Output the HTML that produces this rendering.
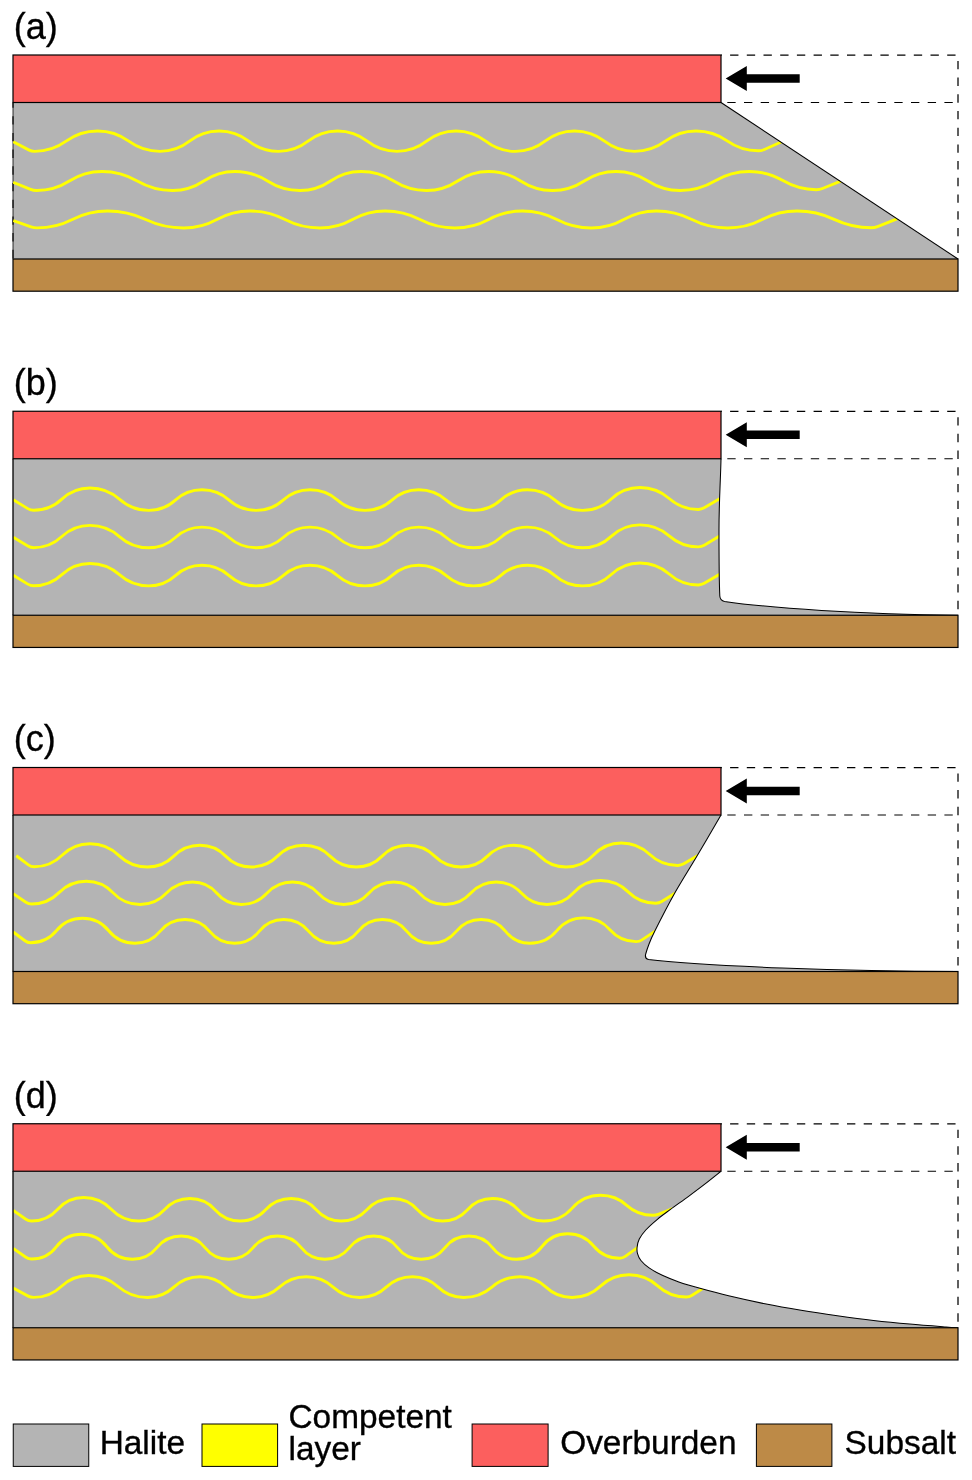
<!DOCTYPE html>
<html lang="en"><head><meta charset="utf-8"><title>Salt flow models</title>
<style>html,body{margin:0;padding:0;background:#fff}svg{display:block}text{will-change:transform;stroke:#000;stroke-width:.35px;font-family:"Liberation Sans",Arial,Helvetica,sans-serif;fill:#000}</style></head><body>
<svg width="972" height="1480" viewBox="0 0 972 1480">
<rect width="972" height="1480" fill="#fff"/>
<g id="panel-a">
<path d="M721,55 H958 V259" fill="none" stroke="#000" stroke-width="1.25" stroke-dasharray="8.35 8.35" stroke-dashoffset="7.6"/>
<path d="M721,102.5 H958" fill="none" stroke="#000" stroke-width="1" stroke-dasharray="8.35 8.35" stroke-dashoffset="10.4"/>
<clipPath id="clip-a"><path d="M13,102.5 H721 L958,259 H13 Z"/></clipPath>
<path d="M13,102.5 H721 L958,259 H13 Z" fill="#b4b4b4"/>
<path d="M13,102.5 V259" stroke="#000" stroke-opacity=".8" stroke-width="1" fill="none"/>
<path d="M13,102.5 V259" stroke="#000" stroke-width="1.1" fill="none" stroke-dasharray="8.35 8.35" stroke-dashoffset="3"/>
<g clip-path="url(#clip-a)" fill="none" stroke="#ffff00" stroke-width="2.9" stroke-linejoin="round">
<path d="M13.25,141.25 L28.67,149.4 Q31.5,150.9 34.7,150.9 C45.81,150.9 57.11,147.23 66.1,140.7 C75.09,134.17 86.39,130.5 97.5,130.5 C108.57,130.5 119.82,134.17 128.75,140.7 C137.68,147.23 148.93,150.9 160,150.9 C170.57,150.9 181.19,147.23 189.5,140.7 C197.81,134.17 208.43,130.5 219,130.5 C229.64,130.5 240.35,134.17 248.75,140.7 C257.15,147.23 267.86,150.9 278.5,150.9 C289.07,150.9 299.69,147.23 308,140.7 C316.31,134.17 326.93,130.5 337.5,130.5 C348.14,130.5 358.85,134.17 367.25,140.7 C375.65,147.23 386.36,150.9 397,150.9 C407.57,150.9 418.19,147.23 426.5,140.7 C434.81,134.17 445.43,130.5 456,130.5 C466.64,130.5 477.35,134.17 485.75,140.7 C494.15,147.23 504.86,150.9 515.5,150.9 C526.07,150.9 536.69,147.23 545,140.7 C553.31,134.17 563.93,130.5 574.5,130.5 C585.21,130.5 596.01,134.17 604.5,140.7 C612.99,147.23 623.79,150.9 634.5,150.9 C645.42,150.9 656.49,147.23 665.25,140.7 C674.01,134.17 685.08,130.5 696,130.5 C706.97,130.5 718.19,134.06 727.15,140.4 C736.11,146.74 747.33,150.3 758.3,150.3 Q761.5,150.3 764.42,148.99 L782.78,140.72" transform="translate(0,0.5)"/>
<path d="M13.25,181.75 L30.54,188.79 Q33.5,190 36.7,190 C48.03,190 59.79,186.58 69.35,180.5 C78.91,174.42 90.67,171 102,171 C114.1,171 126.79,174.42 137.25,180.5 C147.71,186.58 160.4,190 172.5,190 C183.42,190 194.67,186.58 203.75,180.5 C212.83,174.42 224.08,171 235,171 C246.29,171 257.99,174.42 267.5,180.5 C277.01,186.58 288.71,190 300,190 C310.71,190 321.69,186.58 330.5,180.5 C339.31,174.42 350.29,171 361,171 C372.36,171 384.15,174.42 393.75,180.5 C403.35,186.58 415.14,190 426.5,190 C437.39,190 448.59,186.58 457.62,180.5 C466.66,174.42 477.86,171 488.75,171 C499.86,171 511.33,174.42 520.62,180.5 C529.92,186.58 541.39,190 552.5,190 C563.57,190 575,186.58 584.25,180.5 C593.5,174.42 604.93,171 616,171 C627.14,171 638.66,174.42 648,180.5 C657.34,186.58 668.86,190 680,190 C691.95,190 704.46,186.58 714.75,180.5 C725.04,174.42 737.55,171 749.5,171 C760.98,171 773.01,174.28 782.9,180.1 C792.79,185.92 804.82,189.2 816.3,189.2 Q819.5,189.2 822.47,188 L841.42,180.31" transform="translate(0,0.5)"/>
<path d="M13.25,220 L30.99,226.33 Q34,227.4 37.2,227.4 C49.1,227.4 61.75,224.36 72.35,218.95 C82.95,213.54 95.6,210.5 107.5,210.5 C120.31,210.5 134.03,213.56 145.62,219 C157.22,224.44 170.94,227.5 183.75,227.5 C195.05,227.5 206.97,224.44 216.88,219 C226.78,213.56 238.7,210.5 250,210.5 C261.86,210.5 274.46,213.56 285,219 C295.54,224.44 308.14,227.5 320,227.5 C331.11,227.5 342.81,224.44 352.5,219 C362.19,213.56 373.89,210.5 385,210.5 C396.86,210.5 409.46,213.56 420,219 C430.54,224.44 443.14,227.5 455,227.5 C466.49,227.5 478.64,224.44 488.75,219 C498.86,213.56 511.01,210.5 522.5,210.5 C534.17,210.5 546.55,213.56 556.88,219 C567.2,224.44 579.58,227.5 591.25,227.5 C602.36,227.5 614.06,224.44 623.75,219 C633.44,213.56 645.14,210.5 656.25,210.5 C668.3,210.5 681.12,213.56 691.88,219 C702.63,224.44 715.45,227.5 727.5,227.5 C739.29,227.5 751.8,224.44 762.25,219 C772.7,213.56 785.21,210.5 797,210.5 C809.49,210.5 822.86,213.51 834.15,218.85 C845.44,224.19 858.81,227.2 871.3,227.2 Q874.5,227.2 877.48,226.03 L897.08,218.34" transform="translate(0,0.5)"/>
</g>
<path d="M721,102.5 L958,259" fill="none" stroke="#000" stroke-width="1.05"/>
<rect x="13" y="55" width="708" height="47.5" fill="#fc5f5e" stroke="#000" stroke-width="1.2"/>
<rect x="13" y="259" width="945" height="32.2" fill="#bd8a47" stroke="#000" stroke-width="1.2"/>
<path d="M725.7,78.5 L746.8,66.1 V74.3 H799.7 V82.8 H746.8 V90.9 Z" fill="#000"/>
<text x="13.8" y="38.75" font-size="36">(a)</text>
</g>
<g id="panel-b">
<path d="M721,411.25 H958 V615.25" fill="none" stroke="#000" stroke-width="1.25" stroke-dasharray="8.35 8.35" stroke-dashoffset="7.6"/>
<path d="M721,458.75 H958" fill="none" stroke="#000" stroke-width="1" stroke-dasharray="8.35 8.35" stroke-dashoffset="10.4"/>
<clipPath id="clip-b"><path d="M13,458.75 H721 C720.6,480 719,500 719,530 C719,560 719.3,585 719.8,596 Q720.2,600.6 724.5,601.4 C770,608 860,614.2 958,615.25 H13 Z"/></clipPath>
<path d="M13,458.75 H721 C720.6,480 719,500 719,530 C719,560 719.3,585 719.8,596 Q720.2,600.6 724.5,601.4 C770,608 860,614.2 958,615.25 H13 Z" fill="#b4b4b4"/>
<g clip-path="url(#clip-b)" fill="none" stroke="#ffff00" stroke-width="2.9" stroke-linejoin="round">
<path d="M13.25,499.75 L27.77,508.63 Q30.5,510.3 33.7,510.3 C44.12,510.3 54.26,506.29 61.85,499.15 C69.44,492.01 79.58,488 90,488 C100.77,488 111.34,492.03 119.38,499.2 C127.41,506.37 137.98,510.4 148.75,510.4 C158.55,510.4 168.14,506.68 175.38,500.07 C182.61,493.47 192.2,489.75 202,489.75 C211.94,489.75 221.7,493.47 229.12,500.07 C236.55,506.68 246.31,510.4 256.25,510.4 C266.12,510.4 275.79,506.68 283.12,500.07 C290.46,493.47 300.13,489.75 310,489.75 C320.04,489.75 329.94,493.47 337.5,500.07 C345.06,506.68 354.96,510.4 365,510.4 C374.87,510.4 384.54,506.68 391.88,500.07 C399.21,493.47 408.88,489.75 418.75,489.75 C428.79,489.75 438.69,493.47 446.25,500.07 C453.81,506.68 463.71,510.4 473.75,510.4 C483.62,510.4 493.29,506.68 500.62,500.07 C507.96,493.47 517.63,489.75 527.5,489.75 C537.54,489.75 547.44,493.47 555,500.07 C562.56,506.68 572.46,510.4 582.5,510.4 C593.16,510.4 603.51,506.28 611.25,498.95 C618.99,491.62 629.34,487.5 640,487.5 C650.66,487.5 661.15,491.46 669.15,498.5 C677.15,505.54 687.64,509.5 698.3,509.5 Q701.5,509.5 704.25,507.87 L719.65,498.72"/>
<path d="M13.25,537.15 L27.77,546.03 Q30.5,547.7 33.7,547.7 C44.12,547.7 54.26,543.69 61.85,536.55 C69.44,529.41 79.58,525.4 90,525.4 C100.77,525.4 111.34,529.43 119.38,536.6 C127.41,543.77 137.98,547.8 148.75,547.8 C158.55,547.8 168.14,544.08 175.38,537.47 C182.61,530.87 192.2,527.15 202,527.15 C211.94,527.15 221.7,530.87 229.12,537.47 C236.55,544.08 246.31,547.8 256.25,547.8 C266.12,547.8 275.79,544.08 283.12,537.47 C290.46,530.87 300.13,527.15 310,527.15 C320.04,527.15 329.94,530.87 337.5,537.47 C345.06,544.08 354.96,547.8 365,547.8 C374.87,547.8 384.54,544.08 391.88,537.47 C399.21,530.87 408.88,527.15 418.75,527.15 C428.79,527.15 438.69,530.87 446.25,537.47 C453.81,544.08 463.71,547.8 473.75,547.8 C483.62,547.8 493.29,544.08 500.62,537.47 C507.96,530.87 517.63,527.15 527.5,527.15 C537.54,527.15 547.44,530.87 555,537.47 C562.56,544.08 572.46,547.8 582.5,547.8 C593.16,547.8 603.51,543.68 611.25,536.35 C618.99,529.02 629.34,524.9 640,524.9 C650.66,524.9 661.15,528.86 669.15,535.9 C677.15,542.94 687.64,546.9 698.3,546.9 Q701.5,546.9 704.25,545.27 L719.65,536.12"/>
<path d="M13.25,575.25 L27.77,584.13 Q30.5,585.8 33.7,585.8 C44.12,585.8 54.26,581.79 61.85,574.65 C69.44,567.51 79.58,563.5 90,563.5 C100.77,563.5 111.34,567.53 119.38,574.7 C127.41,581.87 137.98,585.9 148.75,585.9 C158.55,585.9 168.14,582.18 175.38,575.58 C182.61,568.97 192.2,565.25 202,565.25 C211.94,565.25 221.7,568.97 229.12,575.58 C236.55,582.18 246.31,585.9 256.25,585.9 C266.12,585.9 275.79,582.18 283.12,575.58 C290.46,568.97 300.13,565.25 310,565.25 C320.04,565.25 329.94,568.97 337.5,575.58 C345.06,582.18 354.96,585.9 365,585.9 C374.87,585.9 384.54,582.18 391.88,575.58 C399.21,568.97 408.88,565.25 418.75,565.25 C428.79,565.25 438.69,568.97 446.25,575.58 C453.81,582.18 463.71,585.9 473.75,585.9 C483.62,585.9 493.29,582.18 500.62,575.58 C507.96,568.97 517.63,565.25 527.5,565.25 C537.54,565.25 547.44,568.97 555,575.58 C562.56,582.18 572.46,585.9 582.5,585.9 C593.16,585.9 603.51,581.78 611.25,574.45 C618.99,567.12 629.34,563 640,563 C650.66,563 661.15,566.96 669.15,574 C677.15,581.04 687.64,585 698.3,585 Q701.5,585 704.25,583.37 L719.65,574.22"/>
</g>
<path d="M13,458.75 V615.25" fill="none" stroke="#000" stroke-width="1.3"/>
<path d="M721,458.75 C720.6,480 719,500 719,530 C719,560 719.3,585 719.8,596 Q720.2,600.6 724.5,601.4 C770,608 860,614.2 958,615.25" fill="none" stroke="#000" stroke-width="1.05"/>
<rect x="13" y="411.25" width="708" height="47.5" fill="#fc5f5e" stroke="#000" stroke-width="1.2"/>
<rect x="13" y="615.25" width="945" height="32.2" fill="#bd8a47" stroke="#000" stroke-width="1.2"/>
<path d="M725.7,434.75 L746.8,422.35 V430.55 H799.7 V439.05 H746.8 V447.15 Z" fill="#000"/>
<text x="13.8" y="395" font-size="36">(b)</text>
</g>
<g id="panel-c">
<path d="M721,767.5 H958 V971.5" fill="none" stroke="#000" stroke-width="1.25" stroke-dasharray="8.35 8.35" stroke-dashoffset="7.6"/>
<path d="M721,815 H958" fill="none" stroke="#000" stroke-width="1" stroke-dasharray="8.35 8.35" stroke-dashoffset="10.4"/>
<clipPath id="clip-c"><path d="M13,815 H721 C717,821.83 704.75,842.92 697,856 C689.25,869.08 681.57,880.92 674.5,893.5 C667.43,906.08 658.95,922.8 654.6,931.5 C650.25,940.2 649.9,941.9 648.4,945.7 C646.9,949.5 646.07,952.87 645.6,954.3 Q644.6,958.6 648.5,959.6 C700,966.3 850,971.2 958,971.5 H13 Z"/></clipPath>
<path d="M13,815 H721 C717,821.83 704.75,842.92 697,856 C689.25,869.08 681.57,880.92 674.5,893.5 C667.43,906.08 658.95,922.8 654.6,931.5 C650.25,940.2 649.9,941.9 648.4,945.7 C646.9,949.5 646.07,952.87 645.6,954.3 Q644.6,958.6 648.5,959.6 C700,966.3 850,971.2 958,971.5 H13 Z" fill="#b4b4b4"/>
<g clip-path="url(#clip-c)" fill="none" stroke="#ffff00" stroke-width="2.9" stroke-linejoin="round">
<path d="M16.25,855.75 L28.44,864.88 Q31,866.8 34.2,866.8 C44.65,866.8 54.7,862.65 62.1,855.27 C69.5,847.9 79.55,843.75 90,843.75 C100.7,843.75 111.05,847.93 118.75,855.38 C126.45,862.82 136.8,867 147.5,867 C157.34,867 166.79,863.09 173.75,856.12 C180.71,849.16 190.16,845.25 200,845.25 C209.68,845.25 218.9,849.16 225.62,856.12 C232.35,863.09 241.57,867 251.25,867 C261.09,867 270.54,863.09 277.5,856.12 C284.46,849.16 293.91,845.25 303.75,845.25 C313.59,845.25 323.04,849.16 330,856.12 C336.96,863.09 346.41,867 356.25,867 C365.99,867 375.31,863.09 382.12,856.12 C388.94,849.16 398.26,845.25 408,845.25 C417.94,845.25 427.53,849.16 434.62,856.12 C441.72,863.09 451.31,867 461.25,867 C471.09,867 480.54,863.09 487.5,856.12 C494.46,849.16 503.91,845.25 513.75,845.25 C523.56,845.25 532.96,849.16 539.88,856.12 C546.79,863.09 556.19,867 566,867 C576.51,867 586.45,862.68 593.62,855 C600.8,847.32 610.74,843 621.25,843 C631.73,843 641.91,847.05 649.52,854.25 C657.14,861.45 667.32,865.5 677.8,865.5 Q681,865.5 683.75,863.87 L699.15,854.72"/>
<path d="M13.25,893.75 L25.84,902.21 Q28.5,904 31.7,904 C41.95,904 51.77,899.9 58.98,892.62 C66.18,885.35 76,881.25 86.25,881.25 C96.46,881.25 106.13,885.43 113.12,892.88 C120.12,900.32 129.79,904.5 140,904.5 C149.94,904.5 159.39,900.45 166.25,893.25 C173.11,886.05 182.56,882 192.5,882 C201.96,882 210.74,886.05 216.88,893.25 C223.01,900.45 231.79,904.5 241.25,904.5 C251.03,904.5 260.26,900.45 266.88,893.25 C273.49,886.05 282.72,882 292.5,882 C302.28,882 311.51,886.05 318.12,893.25 C324.74,900.45 333.97,904.5 343.75,904.5 C353.37,904.5 362.37,900.45 368.75,893.25 C375.13,886.05 384.13,882 393.75,882 C403.53,882 412.76,886.05 419.38,893.25 C425.99,900.45 435.22,904.5 445,904.5 C454.78,904.5 464.01,900.45 470.62,893.25 C477.24,886.05 486.47,882 496.25,882 C505.97,882 515.1,886.05 521.62,893.25 C528.15,900.45 537.28,904.5 547,904.5 C557.28,904.5 566.91,900.18 573.75,892.5 C580.59,884.82 590.22,880.5 600.5,880.5 C610.84,880.5 620.79,884.59 628.15,891.85 C635.51,899.11 645.46,903.2 655.8,903.2 Q659,903.2 661.71,901.5 L676.62,892.17"/>
<path d="M13.25,932 L24.94,940.78 Q27.5,942.7 30.7,942.7 C40.83,942.7 50.16,938.3 56.6,930.48 C63.04,922.65 72.37,918.25 82.5,918.25 C92.8,918.25 102.25,922.75 108.75,930.75 C115.25,938.75 124.7,943.25 135,943.25 C144.81,943.25 153.81,938.98 160,931.38 C166.19,923.77 175.19,919.5 185,919.5 C194.74,919.5 203.65,923.77 209.75,931.38 C215.85,938.98 224.76,943.25 234.5,943.25 C244.21,943.25 253.08,938.98 259.12,931.38 C265.17,923.77 274.04,919.5 283.75,919.5 C293.56,919.5 302.56,923.77 308.75,931.38 C314.94,938.98 323.94,943.25 333.75,943.25 C343.4,943.25 352.18,938.98 358.12,931.38 C364.07,923.77 372.85,919.5 382.5,919.5 C392.15,919.5 400.93,923.77 406.88,931.38 C412.82,938.98 421.6,943.25 431.25,943.25 C441.06,943.25 450.06,938.98 456.25,931.38 C462.44,923.77 471.44,919.5 481.25,919.5 C490.9,919.5 499.68,923.77 505.62,931.38 C511.57,938.98 520.35,943.25 530,943.25 C540.51,943.25 550.19,938.69 556.88,930.58 C563.56,922.46 573.24,917.9 583.75,917.9 C593.84,917.9 603.27,922.17 609.92,929.75 C616.58,937.33 626.01,941.6 636.1,941.6 Q639.3,941.6 641.97,939.84 L656.34,930.37"/>
</g>
<path d="M13,815 V971.5" fill="none" stroke="#000" stroke-width="1.3"/>
<path d="M721,815 C717,821.83 704.75,842.92 697,856 C689.25,869.08 681.57,880.92 674.5,893.5 C667.43,906.08 658.95,922.8 654.6,931.5 C650.25,940.2 649.9,941.9 648.4,945.7 C646.9,949.5 646.07,952.87 645.6,954.3 Q644.6,958.6 648.5,959.6 C700,966.3 850,971.2 958,971.5" fill="none" stroke="#000" stroke-width="1.05"/>
<rect x="13" y="767.5" width="708" height="47.5" fill="#fc5f5e" stroke="#000" stroke-width="1.2"/>
<rect x="13" y="971.5" width="945" height="32.2" fill="#bd8a47" stroke="#000" stroke-width="1.2"/>
<path d="M725.7,791 L746.8,778.6 V786.8 H799.7 V795.3 H746.8 V803.4 Z" fill="#000"/>
<text x="13.8" y="751.25" font-size="36">(c)</text>
</g>
<g id="panel-d">
<path d="M721,1123.75 H958 V1327.75" fill="none" stroke="#000" stroke-width="1.25" stroke-dasharray="8.35 8.35" stroke-dashoffset="7.6"/>
<path d="M721,1171.25 H958" fill="none" stroke="#000" stroke-width="1" stroke-dasharray="8.35 8.35" stroke-dashoffset="10.4"/>
<clipPath id="clip-d"><path d="M13,1171.25 H721 C718.35,1173.36 710.5,1179.73 705.1,1183.9 C699.7,1188.08 694.37,1192.05 688.6,1196.3 C682.83,1200.55 675.7,1205.57 670.5,1209.4 C665.3,1213.23 661.52,1215.87 657.4,1219.3 C653.28,1222.73 648.82,1226.7 645.8,1230 C642.78,1233.3 640.75,1236.22 639.3,1239.1 C637.85,1241.98 637.38,1244.83 637.1,1247.3 C636.82,1249.77 636.97,1251.7 637.6,1253.9 C638.23,1256.1 638.98,1258.17 640.9,1260.5 C642.82,1262.83 645.53,1265.43 649.1,1267.9 C652.67,1270.37 657.35,1272.97 662.3,1275.3 C667.25,1277.63 672.22,1279.65 678.8,1281.9 C685.38,1284.15 693.5,1286.48 701.8,1288.8 C710.1,1291.12 718.08,1293.3 728.6,1295.8 C739.12,1298.3 752.82,1301.38 764.9,1303.8 C776.98,1306.22 789.03,1308.32 801.1,1310.3 C813.17,1312.28 825.23,1314.02 837.3,1315.7 C849.37,1317.38 861.43,1319 873.5,1320.4 C885.57,1321.8 897.62,1323 909.7,1324.1 C921.78,1325.2 937.95,1326.39 946,1327 C954.05,1327.61 956,1327.62 958,1327.75 H13 Z"/></clipPath>
<path d="M13,1171.25 H721 C718.35,1173.36 710.5,1179.73 705.1,1183.9 C699.7,1188.08 694.37,1192.05 688.6,1196.3 C682.83,1200.55 675.7,1205.57 670.5,1209.4 C665.3,1213.23 661.52,1215.87 657.4,1219.3 C653.28,1222.73 648.82,1226.7 645.8,1230 C642.78,1233.3 640.75,1236.22 639.3,1239.1 C637.85,1241.98 637.38,1244.83 637.1,1247.3 C636.82,1249.77 636.97,1251.7 637.6,1253.9 C638.23,1256.1 638.98,1258.17 640.9,1260.5 C642.82,1262.83 645.53,1265.43 649.1,1267.9 C652.67,1270.37 657.35,1272.97 662.3,1275.3 C667.25,1277.63 672.22,1279.65 678.8,1281.9 C685.38,1284.15 693.5,1286.48 701.8,1288.8 C710.1,1291.12 718.08,1293.3 728.6,1295.8 C739.12,1298.3 752.82,1301.38 764.9,1303.8 C776.98,1306.22 789.03,1308.32 801.1,1310.3 C813.17,1312.28 825.23,1314.02 837.3,1315.7 C849.37,1317.38 861.43,1319 873.5,1320.4 C885.57,1321.8 897.62,1323 909.7,1324.1 C921.78,1325.2 937.95,1326.39 946,1327 C954.05,1327.61 956,1327.62 958,1327.75 H13 Z" fill="#b4b4b4"/>
<g clip-path="url(#clip-d)" fill="none" stroke="#ffff00" stroke-width="2.9" stroke-linejoin="round">
<path d="M13.25,1210.5 L25.86,1219.19 Q28.5,1221 31.7,1221 C41.73,1221 51.09,1216.77 57.73,1209.25 C64.36,1201.73 73.72,1197.5 83.75,1197.5 C94.16,1197.5 104.06,1201.73 111.25,1209.25 C118.44,1216.77 128.34,1221 138.75,1221 C148.53,1221 157.76,1216.95 164.38,1209.75 C170.99,1202.55 180.22,1198.5 190,1198.5 C199.62,1198.5 208.62,1202.55 215,1209.75 C221.38,1216.95 230.38,1221 240,1221 C249.78,1221 259.01,1216.95 265.62,1209.75 C272.24,1202.55 281.47,1198.5 291.25,1198.5 C300.87,1198.5 309.87,1202.55 316.25,1209.75 C322.63,1216.95 331.63,1221 341.25,1221 C351.03,1221 360.26,1216.95 366.88,1209.75 C373.49,1202.55 382.72,1198.5 392.5,1198.5 C402.12,1198.5 411.12,1202.55 417.5,1209.75 C423.88,1216.95 432.88,1221 442.5,1221 C452.12,1221 461.12,1216.95 467.5,1209.75 C473.88,1202.55 482.88,1198.5 492.5,1198.5 C502.28,1198.5 511.51,1202.55 518.12,1209.75 C524.74,1216.95 533.97,1221 543.75,1221 C554.7,1221 564.94,1216.37 572.17,1208.15 C579.41,1199.93 589.65,1195.3 600.6,1195.3 C610.18,1195.3 619.57,1198.9 626.7,1205.3 C633.83,1211.7 643.22,1215.3 652.8,1215.3 Q656,1215.3 658.97,1214.1 L672.72,1208.57"/>
<path d="M13.25,1248.5 L25.86,1257.19 Q28.5,1259 31.7,1259 C41.61,1259 50.53,1254.55 56.48,1246.62 C62.42,1238.7 71.34,1234.25 81.25,1234.25 C91.4,1234.25 100.63,1238.75 106.88,1246.75 C113.12,1254.75 122.35,1259.25 132.5,1259.25 C142.07,1259.25 150.85,1255.07 156.88,1247.62 C162.9,1240.18 171.68,1236 181.25,1236 C190.67,1236 199.22,1240.18 205,1247.62 C210.78,1255.07 219.33,1259.25 228.75,1259.25 C238.32,1259.25 247.1,1255.07 253.12,1247.62 C259.15,1240.18 267.93,1236 277.5,1236 C286.92,1236 295.47,1240.18 301.25,1247.62 C307.03,1255.07 315.58,1259.25 325,1259.25 C334.57,1259.25 343.35,1255.07 349.38,1247.62 C355.4,1240.18 364.18,1236 373.75,1236 C383.17,1236 391.72,1240.18 397.5,1247.62 C403.28,1255.07 411.83,1259.25 421.25,1259.25 C430.67,1259.25 439.22,1255.07 445,1247.62 C450.78,1240.18 459.33,1236 468.75,1236 C478.17,1236 486.72,1240.18 492.5,1247.62 C498.28,1255.07 506.83,1259.25 516.25,1259.25 C526.51,1259.25 535.78,1254.66 542,1246.5 C548.22,1238.34 557.49,1233.75 567.75,1233.75 C577.88,1233.75 587.19,1238.15 593.62,1245.97 C600.06,1253.8 609.37,1258.2 619.5,1258.2 Q622.7,1258.2 625.29,1256.33 L639.13,1246.34"/>
<path d="M13.25,1288 L27.69,1295.87 Q30.5,1297.4 33.7,1297.4 C43.9,1297.4 53.81,1293.46 61.23,1286.45 C68.64,1279.44 78.55,1275.5 88.75,1275.5 C99.47,1275.5 110.04,1279.46 118.12,1286.5 C126.21,1293.54 136.78,1297.5 147.5,1297.5 C157.21,1297.5 166.66,1293.77 173.75,1287.12 C180.84,1280.48 190.29,1276.75 200,1276.75 C209.71,1276.75 219.16,1280.48 226.25,1287.12 C233.34,1293.77 242.79,1297.5 252.5,1297.5 C262.38,1297.5 272.06,1293.77 279.38,1287.12 C286.69,1280.48 296.37,1276.75 306.25,1276.75 C316.13,1276.75 325.81,1280.48 333.12,1287.12 C340.44,1293.77 350.12,1297.5 360,1297.5 C369.71,1297.5 379.16,1293.77 386.25,1287.12 C393.34,1280.48 402.79,1276.75 412.5,1276.75 C422.04,1276.75 431.27,1280.48 438.12,1287.12 C444.98,1293.77 454.21,1297.5 463.75,1297.5 C473.97,1297.5 484.1,1293.77 491.88,1287.12 C499.65,1280.48 509.78,1276.75 520,1276.75 C529.64,1276.75 539,1280.48 546,1287.12 C553,1293.77 562.36,1297.5 572,1297.5 C582.58,1297.5 592.84,1293.4 600.5,1286.1 C608.16,1278.8 618.42,1274.7 629,1274.7 C639.56,1274.7 649.87,1278.71 657.65,1285.85 C665.43,1292.99 675.74,1297 686.3,1297 Q689.5,1297 692.18,1295.25 L704.2,1287.44"/>
</g>
<path d="M13,1171.25 V1327.75" fill="none" stroke="#000" stroke-width="1.3"/>
<path d="M721,1171.25 C718.35,1173.36 710.5,1179.73 705.1,1183.9 C699.7,1188.08 694.37,1192.05 688.6,1196.3 C682.83,1200.55 675.7,1205.57 670.5,1209.4 C665.3,1213.23 661.52,1215.87 657.4,1219.3 C653.28,1222.73 648.82,1226.7 645.8,1230 C642.78,1233.3 640.75,1236.22 639.3,1239.1 C637.85,1241.98 637.38,1244.83 637.1,1247.3 C636.82,1249.77 636.97,1251.7 637.6,1253.9 C638.23,1256.1 638.98,1258.17 640.9,1260.5 C642.82,1262.83 645.53,1265.43 649.1,1267.9 C652.67,1270.37 657.35,1272.97 662.3,1275.3 C667.25,1277.63 672.22,1279.65 678.8,1281.9 C685.38,1284.15 693.5,1286.48 701.8,1288.8 C710.1,1291.12 718.08,1293.3 728.6,1295.8 C739.12,1298.3 752.82,1301.38 764.9,1303.8 C776.98,1306.22 789.03,1308.32 801.1,1310.3 C813.17,1312.28 825.23,1314.02 837.3,1315.7 C849.37,1317.38 861.43,1319 873.5,1320.4 C885.57,1321.8 897.62,1323 909.7,1324.1 C921.78,1325.2 937.95,1326.39 946,1327 C954.05,1327.61 956,1327.62 958,1327.75" fill="none" stroke="#000" stroke-width="1.05"/>
<rect x="13" y="1123.75" width="708" height="47.5" fill="#fc5f5e" stroke="#000" stroke-width="1.2"/>
<rect x="13" y="1327.75" width="945" height="32.2" fill="#bd8a47" stroke="#000" stroke-width="1.2"/>
<path d="M725.7,1147.25 L746.8,1134.85 V1143.05 H799.7 V1151.55 H746.8 V1159.65 Z" fill="#000"/>
<text x="13.8" y="1107.5" font-size="36">(d)</text>
</g>
<g id="legend" font-size="33.4">
<rect x="13.25" y="1424" width="75.5" height="42.4" fill="#b4b4b4" stroke="#000" stroke-width="1"/>
<text x="99.7" y="1454.3">Halite</text>
<rect x="202" y="1424" width="75.6" height="42.4" fill="#ffff00" stroke="#000" stroke-width="1"/>
<text x="288.5" y="1428.2">Competent</text>
<text x="288.5" y="1460.1">layer</text>
<rect x="472.1" y="1424" width="76" height="42.4" fill="#fc5f5e" stroke="#000" stroke-width="1"/>
<text x="560.2" y="1454.3">Overburden</text>
<rect x="756.4" y="1424" width="75.5" height="42.4" fill="#bd8a47" stroke="#000" stroke-width="1"/>
<text x="844.6" y="1454.3">Subsalt</text>
</g>
</svg></body></html>
